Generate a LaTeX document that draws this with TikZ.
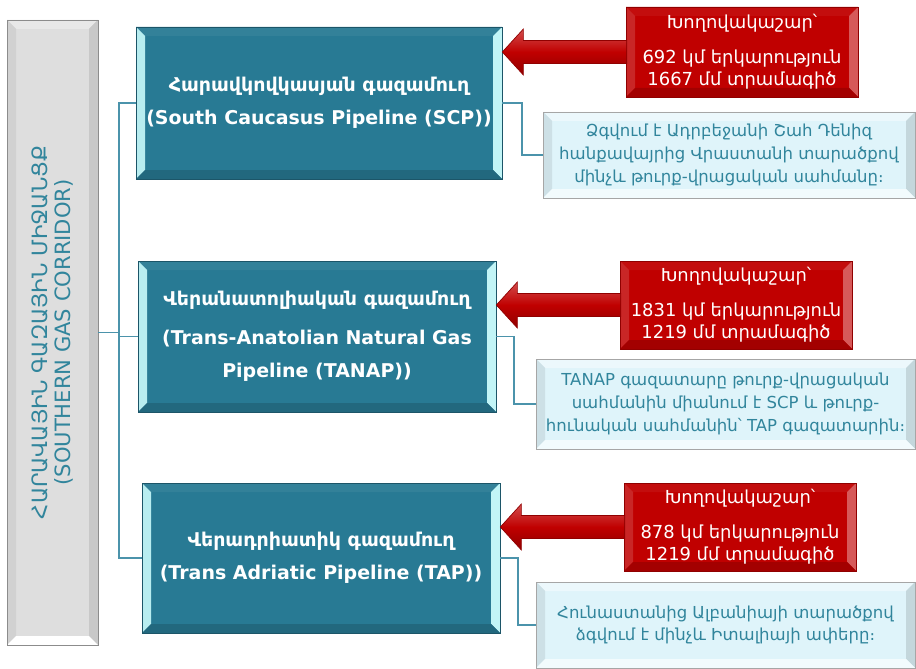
\documentclass[tikz,border=0pt]{standalone}
\usepackage{fontspec}
\setmainfont{DejaVu Sans}
\usepackage{tikz}
\usetikzlibrary{calc}
\definecolor{pipeblue}{HTML}{287A94}
\definecolor{pipered}{HTML}{C00000}
\definecolor{infofill}{HTML}{DFF4FA}
\definecolor{infotext}{HTML}{31859C}
\definecolor{corrfill}{HTML}{DEDEDE}
\definecolor{linkblue}{HTML}{4B93AB}
\tikzset{
  boxsize/.style 2 args = {minimum width=#1*0.02cm, minimum height=#2*0.02cm},
  bevel/.style n args = {4}{path picture={
      \path (path picture bounding box.north west) coordinate (bv1)
            (path picture bounding box.north east) coordinate (bv2)
            (path picture bounding box.south east) coordinate (bv3)
            (path picture bounding box.south west) coordinate (bv4);
      \fill[#1] (bv1) -- (bv2) -- ($(bv2)+(-9,9)$) -- ($(bv1)+(9,9)$) -- cycle;
      \fill[#2] (bv1) -- (bv4) -- ($(bv4)+(9,-9)$) -- ($(bv1)+(9,9)$) -- cycle;
      \fill[#3] (bv2) -- (bv3) -- ($(bv3)+(-9,-9)$) -- ($(bv2)+(-9,9)$) -- cycle;
      \fill[#4] (bv4) -- (bv3) -- ($(bv3)+(-9,-9)$) -- ($(bv4)+(9,-9)$) -- cycle;
    }},
  basebox/.style = {rectangle, align=center, inner sep=0pt},
  pipebox/.style = {basebox, fill=pipeblue, draw=pipeblue!70!black, text=white,
    font=\bfseries\fontsize{10.8}{19}\selectfont,
    bevel={pipeblue!95!white}{pipeblue!45!cyan!30!white}{pipeblue!30!cyan!25!white}{pipeblue!85!black}},% gazamugh
  factbox/.style = {basebox, fill=pipered, draw=pipered!75!black, text=white,
    font=\fontsize{10.2}{12.8}\selectfont,
    bevel={pipered!95!white}{pipered!85!white}{pipered!65!white}{pipered!85!black}},% khoghovakashar
  infobox/.style = {basebox, fill=infofill, draw=black!35, text=infotext,
    font=\fontsize{9.4}{13}\selectfont,
    bevel={infofill!60!white}{infofill!92!black}{infofill!88!black}{infofill!40!white}},
  corrbox/.style = {basebox, fill=corrfill, draw=black!45,
    bevel={corrfill!70!white}{corrfill!94!black}{corrfill!90!black}{white}},
  corrtext/.style = {align=center, text=infotext, font=\fontsize{12}{13.5}\selectfont},
  link/.style = {draw=linkblue, line width=1pt},
  pipearrow/.style = {top color=pipered!70!white, bottom color=pipered!75!black,
    middle color=pipered, draw=pipered!75!black}
}
\begin{document}
\begin{tikzpicture}[x=0.02cm,y=-0.02cm]
\useasboundingbox (0,0) rectangle (916,669);
% left column
\node [corrbox, boxsize={91}{625}] (corr) at (52.5,332.5) {};
\node [corrtext, rotate=90] (corrlbl) at (corr.center)
  {ՀԱՐԱՎԱՅԻՆ ԳԱԶԱՅԻՆ ՄԻՋԱՆՑՔ\\(SOUTHERN GAS CORRIDOR)};
% pipelines
\node [pipebox, boxsize={366}{152}] (scp) at (319,103)
  {Հարավկովկասյան գազամուղ\\(South Caucasus Pipeline (SCP))};
\node [pipebox, boxsize={358}{151}] (tanap) at (317,336.5)
  {Վերանատոլիական գազամուղ\\[3pt](Trans-Anatolian Natural Gas\\Pipeline (TANAP))};
\node [pipebox, boxsize={358}{150}] (tap) at (321,558)
  {Վերադրիատիկ գազամուղ\\(Trans Adriatic Pipeline (TAP))};
% length and diameter
\node [factbox, boxsize={232}{90}] (fact1) at (742,52)
  {Խողովակաշար՝\\[7pt]692 կմ երկարություն\\1667 մմ տրամագիծ};
\node [factbox, boxsize={232}{88}] (fact2) at (736,305)
  {Խողովակաշար՝\\[7pt]1831 կմ երկարություն\\1219 մմ տրամագիծ};
\node [factbox, boxsize={232}{88}] (fact3) at (740,527)
  {Խողովակաշար՝\\[7pt]878 կմ երկարություն\\1219 մմ տրամագիծ};
% route
\node [infobox, boxsize={372}{86}] (info1) at (729,155)
  {Ձգվում է Ադրբեջանի Շահ Դենիզ\\հանքավայրից Վրաստանի տարածքով\\մինչև թուրք-վրացական սահմանը։};
\node [infobox, boxsize={379}{90}] (info2) at (725.5,404)
  {TANAP գազատարը թուրք-վրացական\\սահմանին միանում է SCP և թուրք-\\հունական սահմանին՝ TAP գազատարին։};
\node [infobox, boxsize={379}{86}] (info3) at (725.5,625)
  {Հունաստանից Ալբանիայի տարածքով\\ձգվում է մինչև Իտալիայի ափերը։};
% hierarchy lines
\draw[link] (corr.east) -- ++(21,0) |- (scp.west);
\draw[link] (corr.east) -- ++(21,0) |- (tanap.west);
\draw[link] (corr.east) -- ++(21,0) |- (tap.west);
\draw[link] (scp.east) -- ++(20,0) |- (info1.west);
\draw[link] (tanap.east) -- ++(18,0) |- (info2.west);
\draw[link] (tap.east) -- ++(18,0) |- (info3.west);
% block arrows
\foreach \p/\f in {scp/fact1, tanap/fact2, tap/fact3}
  \shade[pipearrow] ($(\f.west)+(1,-11.5)$) -- ($(\p.east |- \f.west)+(21,-11.5)$)
    -- ++(0,-11.5) -- (\p.east |- \f.west) -- ($(\p.east |- \f.west)+(21,23)$)
    -- ++(0,-11.5) -- ($(\f.west)+(1,11.5)$) -- cycle;
\end{tikzpicture}
\end{document}
